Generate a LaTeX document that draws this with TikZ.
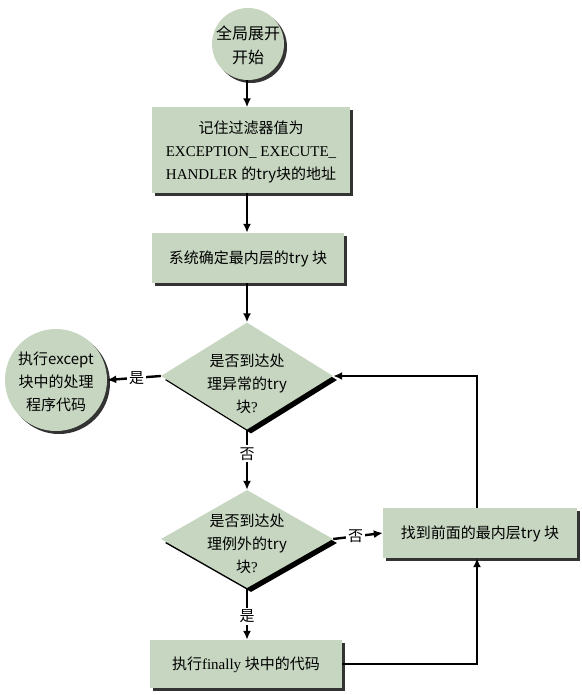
\documentclass[tikz,border=0pt]{standalone}
\usepackage{fontspec}
\setmainfont{Liberation Serif}
\newfontfamily\cjk{Noto Sans CJK SC}
\usetikzlibrary{shapes.geometric,shadows,arrows.meta}
\definecolor{sage}{RGB}{198,214,192}
\tikzset{
  shad/.style={drop shadow={shadow xshift=3pt,shadow yshift=-3pt,fill=black!80,opacity=1}},
  boxnode/.style={rectangle,fill=sage,draw=none,shad,inner sep=0pt},
  circnode/.style={circle,fill=sage,draw=none,shad,inner sep=0pt},
  dianode/.style={diamond,fill=sage,draw=none,drop shadow={shadow xshift=4pt,shadow yshift=-4pt,fill=black,opacity=1},inner sep=0pt},
  txt/.style={align=center,font=\fontsize{15}{23}\selectfont,inner sep=0pt},
  lbl/.style={fill=white,inner sep=2pt,font=\cjk\fontsize{15}{18}\selectfont},
  conn/.style={line width=2.4pt,-{Latex[length=9pt,width=8pt]}},
}
\begin{document}
\begin{tikzpicture}[x=1pt,y=-1pt]
\useasboundingbox (0,0) rectangle (581,695);
% shapes
\node[circnode,minimum size=72pt] (start) at (248,44) {};
\node[txt,font=\fontsize{16}{24}\selectfont] (starttxt) at (248,45) {\cjk 全局展开\\\cjk 开始};
\node[boxnode,minimum width=198pt,minimum height=85pt] (b1) at (251,150) {};
\node[txt] (b1txt) at (251,152) {\cjk 记住过滤器值为\\EXCEPTION\_ EXECUTE\_\\HANDLER {\cjk 的try块的地址}};
\node[boxnode,minimum width=192pt,minimum height=50pt] (b2) at (248,258) {};
\node[txt] (b2txt) at (248,259) {\cjk 系统确定最内层的try 块};
\node[dianode,minimum width=172pt,minimum height=107pt] (d1) at (247,376) {};
\node[txt] (d1txt) at (247,384) {\cjk 是否到达处\\\cjk 理异常的try\\{\cjk 块}?};
\node[circnode,minimum size=102pt] (c2) at (56,380) {};
\node[txt] (c2txt) at (56,382) {\cjk 执行except\\\cjk 块中的处理\\\cjk 程序代码};
\node[dianode,minimum width=172pt,minimum height=98pt] (d2) at (247,539) {};
\node[txt] (d2txt) at (247,544) {\cjk 是否到达处\\\cjk 理例外的try\\{\cjk 块}?};
\node[boxnode,minimum width=194pt,minimum height=50pt] (b3) at (480,533) {};
\node[txt] (b3txt) at (480,534) {\cjk 找到前面的最内层try 块};
\node[boxnode,minimum width=192pt,minimum height=48pt] (b4) at (246,664) {};
\node[txt] (b4txt) at (246,665) {{\cjk 执行}finally {\cjk 块中的代码}};
% connectors
\draw[conn] (start.south -| d1.north) -- (b1.north -| d1.north);
\draw[conn] (b1.south -| d1.north) -- (b2.north -| d1.north);
\draw[conn] (b2.south -| d1.north) -- (d1.north);
\draw[conn] (d1.west) -- node[lbl,pos=0.45] {是} (c2.east);
\draw[conn] (d1.south) -- node[lbl,pos=0.4] {否} (d2.north);
\draw[conn] (d2.east) -- node[lbl,pos=0.45] {否} (b3.west);
\draw[conn] (d2.south) -- node[lbl,pos=0.55] {是} (b4.north -| d2.south);
\draw[conn] (b4.east) -| ([xshift=-3pt]b3.south);
\draw[conn] ([xshift=-3pt]b3.north) |- (d1.east);
\end{tikzpicture}
\end{document}
